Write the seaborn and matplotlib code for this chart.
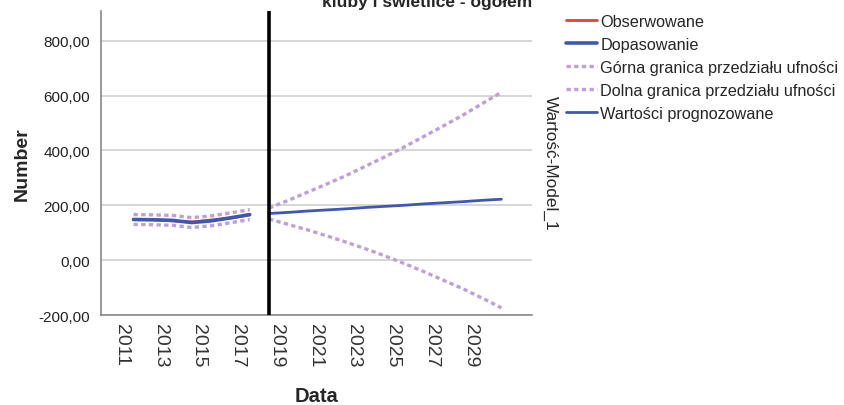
import matplotlib
matplotlib.use("Agg")
import matplotlib.pyplot as plt
import matplotlib.transforms as mtransforms
import seaborn as sns

# ── DATA ───────────────────────────────────────────────
hist_years = [2011, 2012, 2013, 2014, 2015, 2016, 2017]
observed = [148, 147, 143, 139, 146, 153, 165]
fitted = [148, 147, 145, 137, 143, 154, 166]
fit_upper = [166, 165, 163, 155, 161, 172, 184]
fit_lower = [130, 129, 127, 119, 125, 136, 148]

fc_years = [2018, 2019, 2020, 2021, 2022, 2023, 2024, 2025, 2026, 2027, 2028, 2029, 2030]
forecast = [170, 174, 179, 183, 187, 192, 196, 200, 205, 209, 213, 218, 222]
fc_upper = [190, 218, 248, 278, 309, 343, 377, 413, 451, 489, 528, 570, 612]
fc_lower = [150, 130, 110, 88, 65, 41, 15, -13, -42, -73, -104, -138, -174]

tick_years = [2011, 2013, 2015, 2017, 2019, 2021, 2023, 2025, 2027, 2029]
y_ticks = [-200, 0, 200, 400, 600, 800]

title = "kluby i świetlice - ogółem"
labels = ["Obserwowane", "Dopasowanie", "Górna granica przedziału ufności",
          "Dolna granica przedziału ufności", "Wartości prognozowane"]

# ── STYLE ──────────────────────────────────────────────
sns.set_style("white")
plt.rcParams["font.family"] = ["Liberation Sans", "DejaVu Sans"]

red = "#ee3a3a"
blue = "#3f57b3"
lav = "#bea0d6"
dots = (1.3, 1.0)

fig = plt.figure(figsize=(8.44, 4.06), dpi=100)
ax = fig.add_axes([101 / 844, 1 - 316 / 406, 431 / 844, 304 / 406])

# grid
for v in y_ticks:
    ax.axhline(v, color="#cfcfcf", lw=1.2, zorder=0)

# confidence bounds (dotted)
sns.lineplot(x=hist_years, y=fit_upper, ax=ax, color=lav, lw=2.4, label=labels[2])
sns.lineplot(x=hist_years, y=fit_lower, ax=ax, color=lav, lw=2.4, label=labels[3])
sns.lineplot(x=fc_years, y=fc_upper, ax=ax, color=lav, lw=2.4)
sns.lineplot(x=fc_years, y=fc_lower, ax=ax, color=lav, lw=2.4)
for ln in ax.lines[-4:]:
    ln.set_dashes(dots)
    ln.set_dash_capstyle("butt")

sns.lineplot(x=hist_years, y=observed, ax=ax, color=red, lw=2.0, label=labels[0])
sns.lineplot(x=hist_years, y=fitted, ax=ax, color=blue, lw=2.6, label=labels[1])
sns.lineplot(x=fc_years, y=forecast, ax=ax, color=blue, lw=2.0, label=labels[4])

ax.axvline(2018, color="black", lw=2.6, zorder=5)

ax.set_xlim(2009.32, 2031.58)
ax.set_ylim(-200, 908)
ax.set_yticks(y_ticks)
ax.set_yticklabels([f"{v:.2f}".replace(".", ",") for v in y_ticks], fontsize=11)
ax.set_xticks(tick_years)
ax.set_xticklabels([str(y) for y in tick_years], rotation=-90, fontsize=14,
                   va="top", ha="center", color="#333333")
ax.tick_params(axis="y", length=0, pad=8, colors="#222222")
ax.tick_params(axis="x", length=0, pad=6)
# SPSS puts the year labels slightly left of the point
shift = mtransforms.ScaledTranslation(-12 / 100, 0, fig.dpi_scale_trans)
for lbl in ax.get_xticklabels():
    lbl.set_transform(lbl.get_transform() + shift)

for side in ["top", "right"]:
    ax.spines[side].set_visible(False)
for side in ["left", "bottom"]:
    ax.spines[side].set_color("#888888")
    ax.spines[side].set_linewidth(1.2)

ax.set_xlabel("")
ax.set_ylabel("")
fig.text(22 / 844, 1 - 164 / 406, "Number", rotation=90, fontsize=14,
         fontweight="bold", ha="center", va="center")
fig.text(317 / 844, 1 - 397 / 406, "Data", fontsize=14.5, fontweight="bold",
         ha="center", va="center")
fig.text(427 / 844, 1 - 7 / 406, title, fontsize=12.5, fontweight="bold",
         ha="center", va="baseline")
fig.text(550 / 844, 1 - 163 / 406, "Wartość-Model_1", rotation=-90, fontsize=12.4,
         ha="center", va="center")

# legend in SPSS order
handles, labs = ax.get_legend_handles_labels()
lookup = dict(zip(labs, handles))
ax.legend([lookup[l] for l in labels], labels, loc="upper left",
          bbox_to_anchor=(566 / 844, 1 - 15 / 406), bbox_transform=fig.transFigure,
          frameon=False, fontsize=11.7, handlelength=1.9, handletextpad=0.2,
          labelspacing=0.49, borderaxespad=0, borderpad=0)

fig.savefig("out.png", dpi=100)
